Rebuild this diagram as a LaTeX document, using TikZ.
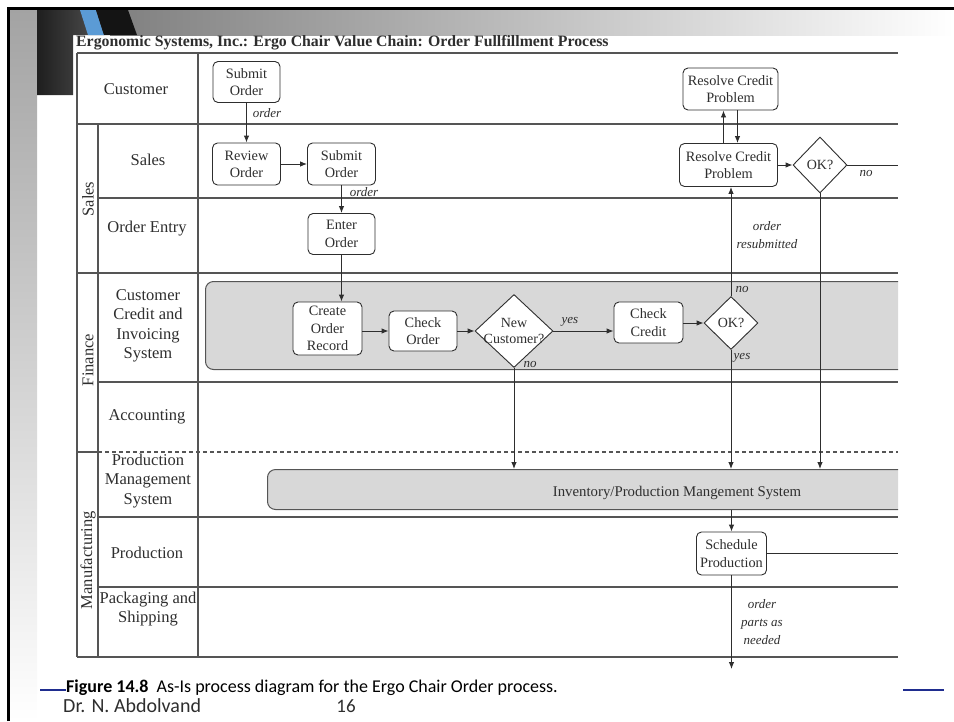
\documentclass[tikz,border=0pt]{standalone}
\usepackage{fontspec}
\setmainfont{Liberation Serif}
\newfontfamily\capfont{Carlito}
\usetikzlibrary{shapes.geometric,arrows.meta}

\definecolor{ink}{HTML}{2E2E2E}
\definecolor{rulegray}{HTML}{555555}
\definecolor{sysfill}{HTML}{D8D8D8}
\definecolor{slideblue}{HTML}{5B9BD5}
\definecolor{navy}{HTML}{1F2D8F}

\tikzset{
  lane/.style={draw=rulegray, line width=1.1pt},
  proc/.style={draw=ink, line width=0.9pt, rounded corners=5pt, fill=white,
    align=center, inner sep=0pt, text=ink,
    font=\fontsize{14.3}{17.3}\selectfont},
  decision/.style={diamond, draw=ink, line width=0.9pt, fill=white,
    inner sep=0pt},
  dectext/.style={align=center, inner sep=0pt, text=ink,
    font=\fontsize{14}{15.5}\selectfont},
  sysbox/.style={draw=rulegray, line width=1pt, rounded corners=8pt, fill=sysfill},
  flow/.style={draw=ink, line width=0.9pt, -{Latex[length=7pt,width=5.5pt]}},
  plain/.style={draw=ink, line width=0.9pt},
  lanelbl/.style={align=center, text=ink, font=\fontsize{16.5}{19.5}\selectfont},
  grouplbl/.style={rotate=90, text=ink, font=\fontsize{16.5}{18}\selectfont},
  note/.style={align=center, text=ink, inner sep=0pt,
    font=\itshape\fontsize{13}{18}\selectfont}
}

\begin{document}
\begin{tikzpicture}[x=1pt, y=-1pt]
\useasboundingbox (0,0) rectangle (954,721);

% ---- slide decoration -------------------------------------------------
\shade[top color=black!36, bottom color=white] (10,10) rectangle (37,721);
\shade[left color=black!50, right color=white] (110,10) rectangle (954,35);
\shade[left color=black!88, right color=black!68]
  (37,10) -- (104,10) -- (104,35) -- (73,35) -- (73,95) -- (37,95) -- cycle;
\fill[slideblue] (80,10) -- (96,10) -- (104,35) -- (88,35) -- cycle;
\fill[black!92] (96,10) -- (128,10) -- (137,35) -- (104,35) -- cycle;
\draw[black, line width=3pt] (8,721) -- (8,8) -- (954,8);

% ---- title -------------------------------------------------------------
\node[anchor=west, inner sep=0pt, text=ink, font=\bfseries\fontsize{15.8}{18}\selectfont]
  (title) at (76,43) {Ergonomic Systems, Inc.: Ergo Chair Value Chain: Order Fullfillment Process};

% ---- shaded system bands (cut off at the right edge) ----------------------
\begin{scope}
  \clip (0,0) rectangle (898,721);
  \node[sysbox, anchor=north west, minimum width=740pt, minimum height=88pt]
    (cis) at (205,281) {};
  \node[sysbox, anchor=north west, minimum width=680pt, minimum height=40pt]
    (pms) at (267,469) {};
\end{scope}
\node[text=ink, font=\fontsize{14.8}{16}\selectfont] (pmstext) at (677,493)
  {Inventory/Production Mangement System};

% ---- swimlane grid ----------------------------------------------------------
\draw[lane] (77,53) -- (898,53);
\draw[lane] (77,124) -- (898,124);
\draw[lane] (98,198) -- (898,198);
\draw[lane] (77,273) -- (898,273);
\draw[lane] (98,382) -- (898,382);
\draw[lane] (77,452) -- (98,452);
\draw[lane, dashed, dash pattern=on 4pt off 3pt] (98,452) -- (898,452);
\draw[lane] (98,517) -- (898,517);
\draw[lane] (98,587) -- (898,587);
\draw[lane] (77,657) -- (898,657);
\draw[lane] (77,53) -- (77,657);
\draw[lane] (98,124) -- (98,657);
\draw[lane] (198,53) -- (198,657);

% group names
\node[grouplbl] (gsales) at (88,199) {Sales};
\node[grouplbl] (gfin) at (88,360) {Finance};
\node[grouplbl] (gman) at (88,560) {Manufacturing};

% lane names
\node[lanelbl] (lcust) at (136,89) {Customer};
\node[lanelbl] (lsales) at (148,160) {Sales};
\node[lanelbl] (lentry) at (147,229) {Order Entry};
\node[lanelbl] (lcredit) at (148,326) {Customer\\Credit and\\Invoicing\\System};
\node[lanelbl] (lacc) at (147,417) {Accounting};
\node[lanelbl] (lpms) at (148,481) {Production\\Management\\System};
\node[lanelbl] (lprod) at (147,553) {Production};
\node[lanelbl] (lpack) at (148,609) {Packaging and\\Shipping};

% ---- process steps ----------------------------------------------------------
\node[proc, minimum width=67pt, minimum height=41pt] (sub1) at (246.5,82) {Submit\\Order};
\node[proc, minimum width=68pt, minimum height=42pt] (rev) at (246.5,164) {Review\\Order};
\node[proc, minimum width=68pt, minimum height=42pt] (sub2) at (341.5,164) {Submit\\Order};
\node[proc, minimum width=67pt, minimum height=41pt] (ent) at (341.5,234) {Enter\\Order};
\node[proc, minimum width=69pt, minimum height=53pt] (cor) at (327.5,328.5) {Create\\Order\\Record};
\node[proc, minimum width=68pt, minimum height=40pt] (cko) at (423,331) {Check\\Order};
\node[decision, minimum width=78pt, minimum height=73pt,
  label={[dectext]center:New\\Customer?}] (newc) at (514,331) {};
\node[proc, minimum width=69pt, minimum height=41pt] (ckc) at (648.5,322.5) {Check\\Credit};
\node[decision, minimum width=54pt, minimum height=53pt,
  label={[dectext]center:OK?}] (ok1) at (731,323) {};
\node[proc, minimum width=95pt, minimum height=42pt] (rcp1) at (730.5,89) {Resolve Credit\\Problem};
\node[proc, minimum width=98pt, minimum height=43pt] (rcp2) at (728.5,165) {Resolve Credit\\Problem};
\node[decision, minimum width=54pt, minimum height=56pt,
  label={[dectext]center:OK?}] (ok2) at (820,165) {};
\node[proc, minimum width=70pt, minimum height=43pt] (sch) at (731.5,553.5) {Schedule\\Production};

% free ends of outgoing flows
\coordinate (okexit) at (898,165);
\coordinate (schexit) at (898,553.5);
\coordinate (partsout) at (731.5,669);

% ---- flows ------------------------------------------------------------------
\draw[flow] (sub1.south) -- (sub1.south |- rev.north);
\draw[flow] (rev.east) -- (sub2.west);
\draw[flow] (sub2.south) -- (ent.north);
\draw[flow] (ent.south) -- (ent.south |- cor.north);
\draw[flow] (cor.east |- cko.west) -- (cko.west);
\draw[flow] (cko.east) -- (newc.west);
\draw[flow] (newc.east) -- (newc.east -| ckc.west);
\draw[flow] (ckc.east |- ok1.west) -- (ok1.west);
\draw[flow] (ok1.north) -- (ok1.north |- rcp2.south);
\draw[flow] (ok1.south) -- (ok1.south |- pms.north);
\draw[flow] (newc.south) -- (newc.south |- pms.north);
\draw[flow] ([xshift=-5pt]rcp2.north) -- ([xshift=-5pt]rcp2.north |- rcp1.south);
\draw[flow] ([xshift=7pt]rcp1.south) -- ([xshift=7pt]rcp1.south |- rcp2.north);
\draw[flow] (rcp2.east) -- (ok2.west);
\draw[plain] (ok2.east) -- (okexit);
\draw[flow] (ok2.south) -- (ok2.south |- pms.north);
\draw[flow] (sch.north |- pms.south) -- (sch.north);
\draw[plain] (sch.east) -- (schexit);
\draw[flow] (sch.south) -- (partsout);

% ---- flow labels --------------------------------------------------------------
\node[note] (n1) at (267,113) {order};
\node[note] (n2) at (364,192) {order};
\node[note] (n3) at (570,322) {yes};
\node[note] (n4) at (530,364) {no};
\node[note] (n5) at (742,289) {no};
\node[note] (n6) at (742,358) {yes};
\node[note] (n7) at (767,235) {order\\resubmitted};
\node[note] (n8) at (866,173) {no};
\node[note] (n9) at (762,622) {order\\parts as\\needed};

% ---- caption and footer ----------------------------------------------------------
\draw[navy, line width=2.5pt] (40,690) -- (66,690);
\draw[navy, line width=2.5pt] (903,690) -- (944,690);
\node[anchor=west, inner sep=0pt, font=\capfont\fontsize{18}{20}\selectfont] (cap) at (66,688)
  {\textbf{Figure 14.8}\hspace{0.45em}As-Is process diagram for the Ergo Chair Order process.};
\node[anchor=west, inner sep=0pt, text=ink, font=\capfont\fontsize{20}{22}\selectfont] (author) at (63,706)
  {Dr. N. Abdolvand};
\node[inner sep=0pt, text=ink, font=\capfont\fontsize{19}{21}\selectfont] (page) at (346,706) {16};
\end{tikzpicture}
\end{document}
